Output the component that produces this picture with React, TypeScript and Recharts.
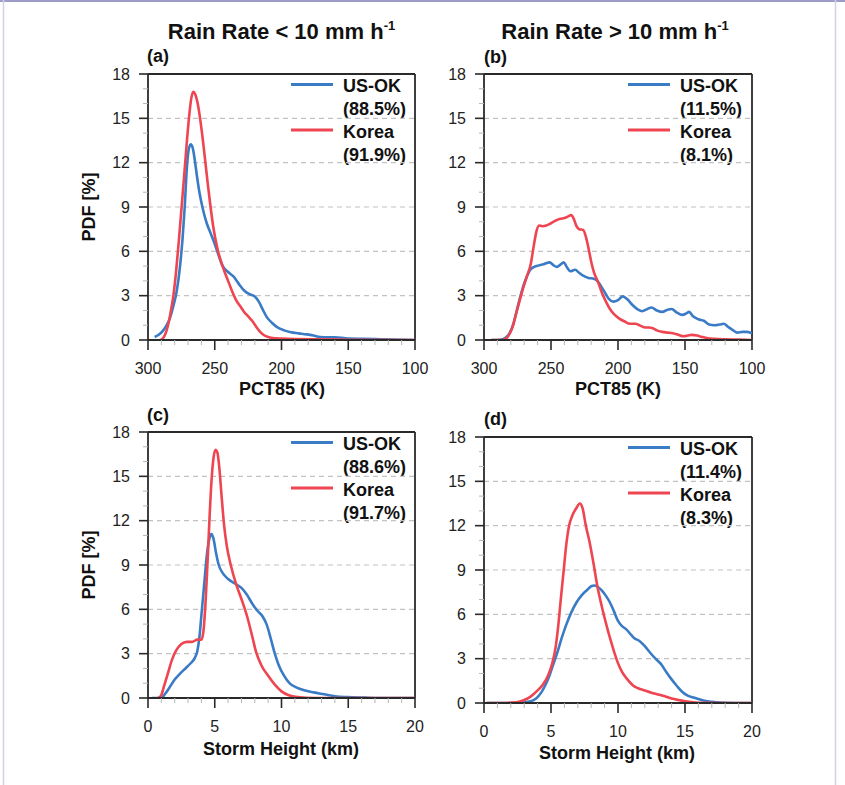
import React from 'react';
import { LineChart, Line, XAxis, YAxis, ReferenceLine } from 'recharts';

// ---------- tick values ----------
const yTicks = [0, 1, 2, 3, 4, 5, 6, 7, 8, 9, 10, 11, 12, 13, 14, 15, 16, 17, 18];
const yMajor = [0, 3, 6, 9, 12, 15, 18];
const gridValues = [3, 6, 9, 12, 15];
const pctTicks = [300, 290, 280, 270, 260, 250, 240, 230, 220, 210, 200, 190, 180, 170, 160, 150, 140, 130, 120, 110, 100];
const pctMajor = [300, 250, 200, 150, 100];
const hgtTicks = [0, 1, 2, 3, 4, 5, 6, 7, 8, 9, 10, 11, 12, 13, 14, 15, 16, 17, 18, 19, 20];
const hgtMajor = [0, 5, 10, 15, 20];

// ---------- series: [x, PDF %] ----------
const aUsOk: [number, number][] = [[295,0.2],[292,0.35],[289,0.6],[286,1.0],[283.5,1.5],[281,2.3],[278.5,3.3],[276,5.0],[274,7.0],[272.5,9.0],[271,11.5],[269.5,12.9],[268,13.25],[266.5,13.0],[265,12.2],[263.5,11.2],[261.5,10.0],[259,8.9],[256,7.9],[253,7.2],[250,6.5],[247,5.7],[244,5.0],[240,4.6],[236,4.3],[232,3.8],[228,3.35],[224,3.1],[220,2.95],[217,2.6],[214,2.05],[211,1.55],[207,1.15],[203,0.85],[198,0.65],[193,0.52],[187,0.45],[181,0.38],[176,0.3],[171,0.2],[165,0.18],[160,0.18],[152,0.12],[140,0.08],[126,0.05],[110,0.02],[100,0.0]];
const aKorea: [number, number][] = [[291,0],[289,0.1],[287,0.4],[285,1.0],[283,1.9],[281,3.0],[279,4.6],[277,6.6],[275,8.8],[273,11.0],[271,13.3],[269,15.3],[267.5,16.4],[266,16.8],[264.5,16.6],[263,16.1],[261,15.0],[259,13.6],[257,12.0],[255,10.4],[253,8.9],[251,7.6],[248.5,6.4],[246,5.5],[243,4.7],[240,4.0],[237,3.3],[234,2.7],[231,2.3],[228,1.9],[225,1.6],[222,1.3],[219,0.9],[216,0.55],[213,0.32],[210,0.2],[205,0.12],[200,0.1],[190,0.07],[175,0.04],[150,0.02],[100,0]];
const bUsOk: [number, number][] = [[294.5,0],[288,0.02],[284,0.15],[281,0.45],[278,1.1],[275.5,2.0],[273,2.9],[270.5,3.7],[268,4.3],[265.5,4.75],[262.5,4.95],[259,5.05],[255,5.15],[251,5.25],[248,5.05],[245.5,4.95],[243,5.1],[240.5,5.25],[238,4.9],[235.5,4.65],[232,4.75],[229,4.55],[226,4.35],[222,4.2],[218,4.15],[215,3.95],[211,3.4],[207,2.8],[203.5,2.6],[200,2.7],[196.5,2.95],[193,2.75],[189,2.35],[185,2.05],[182,1.95],[178,2.1],[175,2.2],[171,2.0],[167,1.9],[163,2.05],[160,2.1],[156,1.85],[152,1.7],[149,1.8],[147,1.9],[144,1.6],[140,1.4],[136,1.3],[132,1.05],[128,1.0],[124,1.05],[121,1.1],[118,0.9],[114,0.65],[111,0.5],[107,0.55],[104,0.55],[100,0.45]];
const bKorea: [number, number][] = [[294.5,0],[286,0],[282,0.25],[279,0.8],[276,1.8],[273,2.8],[270.5,3.6],[268,4.3],[265,5.2],[263,6.3],[261,7.3],[259,7.75],[256.5,7.7],[253.5,7.75],[250,7.9],[246,8.1],[243,8.2],[240,8.25],[237.5,8.35],[235,8.45],[233,8.2],[231,7.7],[229,7.5],[226,7.45],[224,7.0],[222,6.2],[220,5.3],[218,4.6],[215,3.95],[212,3.2],[209,2.6],[206,2.1],[203,1.75],[199,1.45],[195,1.25],[191,1.1],[187,1.1],[184,1.0],[180,0.85],[177,0.85],[174,0.8],[171,0.65],[167,0.55],[163,0.5],[159,0.45],[155,0.35],[151,0.25],[148,0.3],[145,0.35],[141,0.3],[137,0.2],[133,0.12],[128,0.08],[120,0.05],[110,0.03],[100,0]];
const cUsOk: [number, number][] = [[0.3,0],[1.0,0],[1.3,0.3],[1.6,0.7],[2.0,1.25],[2.4,1.65],[2.8,2.0],[3.2,2.35],[3.5,2.7],[3.7,3.2],[3.85,4.1],[4.0,5.6],[4.2,7.6],[4.4,9.6],[4.6,10.8],[4.75,11.1],[4.9,10.8],[5.1,9.8],[5.3,9.0],[5.6,8.45],[6.0,8.05],[6.5,7.75],[7.0,7.45],[7.4,7.0],[7.8,6.4],[8.2,5.9],[8.6,5.5],[8.9,4.95],[9.2,4.0],[9.5,3.0],[9.8,2.2],[10.2,1.5],[10.6,1.0],[11.1,0.72],[11.7,0.52],[12.4,0.38],[13.2,0.25],[14.0,0.12],[15.0,0.06],[16.5,0.02],[18,0],[20,0]];
const cKorea: [number, number][] = [[0.75,0],[1.0,0.2],[1.2,0.8],[1.5,1.7],[1.8,2.6],[2.1,3.2],[2.5,3.65],[2.9,3.8],[3.3,3.8],[3.7,3.95],[4.0,3.95],[4.15,4.5],[4.3,6.3],[4.45,9.0],[4.6,12.0],[4.75,14.6],[4.9,16.2],[5.05,16.8],[5.2,16.6],[5.35,15.5],[5.5,13.8],[5.7,11.7],[5.9,10.3],[6.2,9.0],[6.6,7.7],[7.0,6.7],[7.4,5.6],[7.8,4.2],[8.1,3.1],[8.5,2.2],[9.0,1.5],[9.5,0.9],[10.0,0.45],[10.5,0.2],[11.2,0.06],[12.5,0],[20,0]];
const dUsOk: [number, number][] = [[0.2,0],[2.7,0],[3.3,0.08],[3.7,0.2],[4.0,0.4],[4.3,0.75],[4.6,1.25],[4.9,1.9],[5.2,2.7],[5.5,3.5],[5.8,4.4],[6.1,5.2],[6.5,6.1],[6.9,6.8],[7.3,7.3],[7.7,7.65],[8.0,7.9],[8.25,7.95],[8.5,7.85],[8.8,7.6],[9.1,7.25],[9.4,6.8],[9.7,6.2],[10.0,5.55],[10.3,5.2],[10.6,5.0],[10.9,4.7],[11.2,4.4],[11.6,4.2],[12.0,3.85],[12.4,3.4],[12.8,3.0],[13.2,2.65],[13.6,2.1],[14.0,1.6],[14.4,1.15],[14.8,0.75],[15.2,0.5],[15.7,0.35],[16.3,0.18],[17.0,0.08],[18.0,0.01],[20,0]];
const dKorea: [number, number][] = [[0.2,0],[1.3,0],[2.4,0.05],[3.0,0.2],[3.5,0.45],[4.0,0.85],[4.4,1.25],[4.8,1.9],[5.1,2.7],[5.35,3.8],[5.55,5.3],[5.75,7.2],[5.95,9.0],[6.15,10.8],[6.35,12.0],[6.6,12.7],[6.9,13.2],[7.15,13.5],[7.35,13.2],[7.6,12.0],[7.9,10.8],[8.2,9.3],[8.45,7.95],[8.8,6.5],[9.1,5.4],[9.4,4.4],[9.7,3.5],[10.0,2.7],[10.3,2.1],[10.7,1.6],[11.1,1.2],[11.5,1.0],[12.0,0.85],[12.5,0.7],[13.0,0.58],[13.5,0.45],[14.0,0.3],[14.5,0.2],[15.0,0.12],[15.6,0.05],[16.5,0.01],[18,0],[20,0]];

// ---------- labels ----------
const titles = ['Rain Rate < 10 mm h', 'Rain Rate > 10 mm h'];
const tags = ['(a)', '(b)', '(c)', '(d)'];
const usOkShares = ['(88.5%)', '(11.5%)', '(88.6%)', '(11.4%)'];
const koreaShares = ['(91.9%)', '(8.1%)', '(91.7%)', '(8.3%)'];

const BLUE = '#3a7bc6';
const RED = '#ee4550';
const AXIS = '#2a2a2a';
const FONT = '"Liberation Sans", Arial, Helvetica, sans-serif';

const toData = (arr: [number, number][]) => arr.map(([x, y]) => ({ x, y }));

const makeXTick = (majors: number[]) => (props: any) => {
  const { x, y, payload } = props;
  const major = majors.includes(payload.value);
  return (
    <g>
      <line x1={x} x2={x} y1={y} y2={y + (major ? 10 : 5)} stroke={major ? AXIS : '#b5b5b5'} strokeWidth={major ? 1.6 : 1} />
      {major && (
        <text x={x} y={y + 34} textAnchor="middle" fontSize={16} fill="#222" fontFamily={FONT}>
          {payload.value}
        </text>
      )}
    </g>
  );
};

const YTick = (props: any) => {
  const { x, y, payload } = props;
  const major = yMajor.includes(payload.value);
  return (
    <g>
      <line x1={x} x2={x - (major ? 9 : 5)} y1={y} y2={y} stroke={major ? AXIS : '#b5b5b5'} strokeWidth={major ? 1.6 : 1} />
      {major && (
        <text x={x - 18} y={y} dy="0.36em" textAnchor="end" fontSize={16} fill="#222" fontFamily={FONT}>
          {payload.value}
        </text>
      )}
    </g>
  );
};

type PanelCfg = {
  left: number; top: number; pw: number;
  blue: [number, number][]; red: [number, number][];
  pct: boolean;
};

const PH = 266;
const RM = 30;
const panels: PanelCfg[] = [
  { left: 148, top: 74, pw: 267, blue: aUsOk, red: aKorea, pct: true },
  { left: 484, top: 74, pw: 268, blue: bUsOk, red: bKorea, pct: true },
  { left: 148, top: 432, pw: 267, blue: cUsOk, red: cKorea, pct: false },
  { left: 484, top: 437, pw: 268, blue: dUsOk, red: dKorea, pct: false },
];

const Panel = ({ cfg }: { cfg: PanelCfg }) => {
  const ticks = cfg.pct ? pctTicks : hgtTicks;
  const majors = cfg.pct ? pctMajor : hgtMajor;
  const domain = cfg.pct ? [100, 300] : [0, 20];
  const xEnd = cfg.pct ? 100 : 20;
  return (
    <div style={{ position: 'absolute', left: cfg.left - 60, top: cfg.top - 10 }}>
      <LineChart width={60 + cfg.pw + RM} height={10 + PH + 40} margin={{ top: 10, right: RM, bottom: 0, left: 0 }}>
        <XAxis
          type="number"
          dataKey="x"
          domain={domain}
          reversed={cfg.pct}
          allowDataOverflow
          ticks={ticks}
          interval={0}
          tickSize={0}
          tickMargin={0}
          tickLine={false}
          height={40}
          axisLine={{ stroke: AXIS, strokeWidth: 1.8 }}
          tick={makeXTick(majors)}
        />
        <YAxis
          type="number"
          dataKey="y"
          domain={[0, 18]}
          allowDataOverflow
          ticks={yTicks}
          interval={0}
          tickSize={0}
          tickMargin={0}
          tickLine={false}
          width={60}
          axisLine={{ stroke: AXIS, strokeWidth: 1.8 }}
          tick={YTick}
        />
        {gridValues.map((g) => (
          <ReferenceLine key={g} y={g} stroke="#c2c2c2" strokeWidth={1.2} strokeDasharray="5 4" />
        ))}
        <ReferenceLine y={18} stroke={AXIS} strokeWidth={1.8} />
        <ReferenceLine x={xEnd} stroke={AXIS} strokeWidth={1.8} />
        <Line data={toData(cfg.blue)} dataKey="y" type="monotone" stroke={BLUE} strokeWidth={2.6} dot={false} isAnimationActive={false} />
        <Line data={toData(cfg.red)} dataKey="y" type="monotone" stroke={RED} strokeWidth={2.6} dot={false} isAnimationActive={false} />
      </LineChart>
    </div>
  );
};

const Overlay = () => {
  const tagPos = [[147, 62], [484, 63], [147, 421], [484, 425]];
  return (
    <svg width={845} height={785} style={{ position: 'absolute', left: 0, top: 0 }} fontFamily={FONT}>
      <line x1={0} x2={845} y1={1} y2={1} stroke="#a09cc8" strokeWidth={2} />
      <line x1={3.5} x2={3.5} y1={0} y2={785} stroke="#d0d0e6" strokeWidth={1.5} />
      <line x1={835.5} x2={835.5} y1={0} y2={785} stroke="#d0d0e6" strokeWidth={1.5} />
      {/* titles */}
      {[281.5, 615].map((cx, i) => (
        <text key={i} x={cx} y={39} textAnchor="middle" fontSize={22} fontWeight="bold" fill="#111">
          {titles[i]}
          <tspan fontSize={13} dy={-9}>-1</tspan>
        </text>
      ))}
      {/* tags */}
      {tags.map((t, i) => (
        <text key={t} x={tagPos[i][0]} y={tagPos[i][1]} fontSize={18} fontWeight="bold" fill="#111">{t}</text>
      ))}
      {/* y labels */}
      {[207, 565].map((cy) => (
        <text key={cy} transform={`translate(95,${cy}) rotate(-90)`} textAnchor="middle" fontSize={18} fontWeight="bold" fill="#111">PDF [%]</text>
      ))}
      {/* x labels */}
      <text x={282} y={395} textAnchor="middle" fontSize={18} fontWeight="bold" fill="#111">PCT85 (K)</text>
      <text x={618} y={395} textAnchor="middle" fontSize={18} fontWeight="bold" fill="#111">PCT85 (K)</text>
      <text x={281} y={755} textAnchor="middle" fontSize={18} fontWeight="bold" fill="#111">Storm Height (km)</text>
      <text x={617} y={759} textAnchor="middle" fontSize={18} fontWeight="bold" fill="#111">Storm Height (km)</text>
      {/* legends */}
      {panels.map((p, i) => {
        const r = p.left + p.pw;
        const t = p.top;
        return (
          <g key={i}>
            <line x1={r - 124} x2={r - 82} y1={t + 10.5} y2={t + 10.5} stroke={BLUE} strokeWidth={3} />
            <line x1={r - 124} x2={r - 82} y1={t + 56} y2={t + 56} stroke={RED} strokeWidth={3} />
            <text x={r - 72} y={t + 18} fontSize={18} fontWeight="bold" fill="#111">US-OK</text>
            <text x={r - 72} y={t + 40.5} fontSize={18} fontWeight="bold" fill="#111">{usOkShares[i]}</text>
            <text x={r - 72} y={t + 63.5} fontSize={18} fontWeight="bold" fill="#111">Korea</text>
            <text x={r - 72} y={t + 86.5} fontSize={18} fontWeight="bold" fill="#111">{koreaShares[i]}</text>
          </g>
        );
      })}
    </svg>
  );
};

export default function App() {
  return (
    <div style={{ position: 'absolute', left: 0, top: 0, width: 845, height: 785, background: '#fff', fontFamily: FONT }}>
      <Overlay />
      {panels.map((p, i) => (
        <Panel key={i} cfg={p} />
      ))}
    </div>
  );
}
